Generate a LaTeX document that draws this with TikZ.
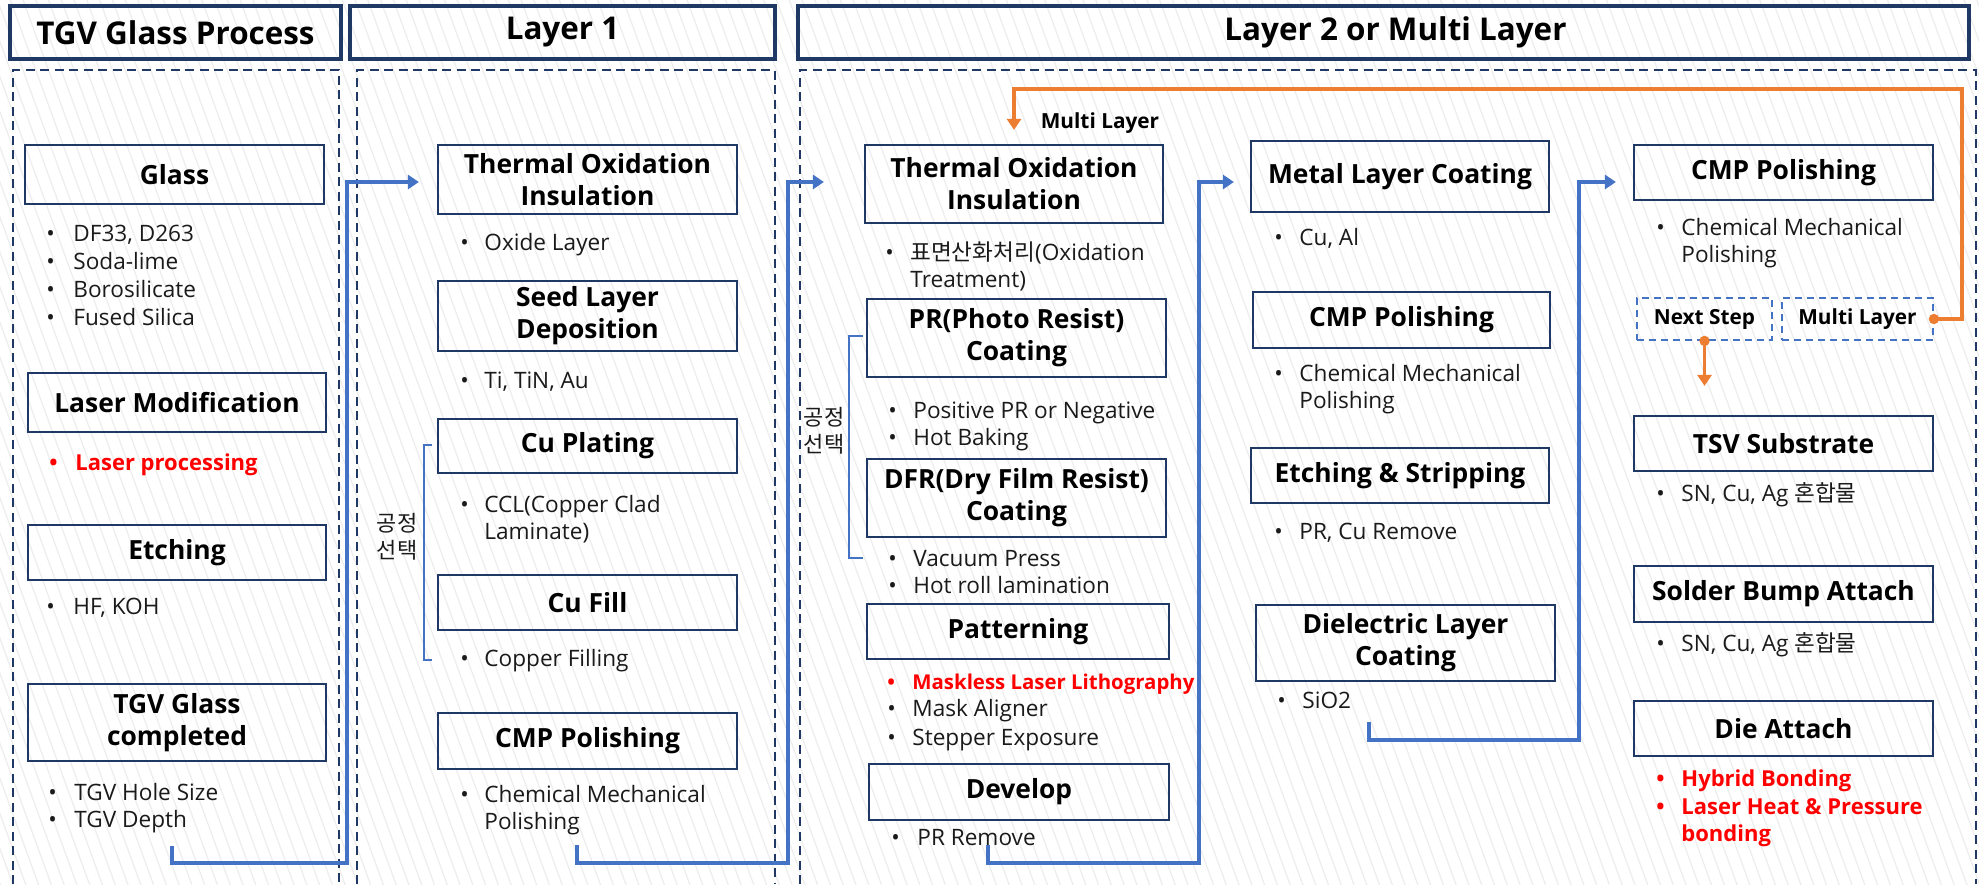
\documentclass[tikz,border=0pt]{standalone}
\usepackage{fontspec}
\setmainfont{Open Sans}
\newfontfamily\kr{Noto Sans CJK KR}
\usetikzlibrary{arrows.meta,patterns.meta,calc}
\definecolor{navy}{HTML}{203864}
\definecolor{lblue}{HTML}{4472C4}
\definecolor{org}{HTML}{ED7D31}
\definecolor{txt}{HTML}{1A1A1A}
\definecolor{redt}{HTML}{FF0000}
\newcommand\bx[6][]{\node[box,#1,minimum width={(#4-#2)*0.5pt},minimum height={(#5-#3)*0.5pt}] (#6) at ({(#2+#4)/2},{(#3+#5)/2})}
\newcommand\bi[6][]{\node[bul,#1] (#2b) at (#3,#5) {•};\node[itm,#1] (#2) at (#4,#5) {\begin{tabular}[t]{@{}l@{}}#6\end{tabular}};}
\begin{document}
\begin{tikzpicture}[x=0.5pt,y=-0.5pt,
  box/.style={draw=navy,line width=1.1pt,inner sep=0pt,align=center,text=black,font=\fontsize{13.2}{16}\selectfont\bfseries},
  hdr/.style={line width=1.8pt,font=\fontsize{15.7}{18}\selectfont\bfseries},
  dbox/.style={draw=lblue,dash pattern=on 3.5pt off 2.5pt,line width=0.9pt,font=\fontsize{10.4}{12}\selectfont\bfseries},
  bul/.style={anchor=base west,inner sep=0pt,text=txt,font=\fontsize{11.3}{13.8}\selectfont},
  itm/.style={anchor=base west,inner sep=0pt,text=txt,font=\fontsize{11.3}{13.8}\selectfont},
  hl/.style={text=redt,font=\fontsize{11}{13.8}\selectfont\bfseries},
  col/.style={draw=navy,line width=1pt,dash pattern=on 4.5pt off 2.75pt},
  conn/.style={draw=lblue,line width=1.8pt,-{Triangle[length=5.5pt,width=7pt]}},
  oconn/.style={draw=org,line width=1.6pt,-{Triangle[length=5.5pt,width=7pt]}},
  brk/.style={draw=lblue,line width=0.8pt},
  klab/.style={align=center,inner sep=0pt,text=txt,font=\kr\fontsize{11}{13.5}\selectfont},
  lab/.style={inner sep=0pt,text=black,font=\fontsize{10.4}{12}\selectfont\bfseries}]
\useasboundingbox (0,0) rectangle (1979,884);
\fill[white] (0,0) rectangle (1979,884);
\fill[pattern={Lines[angle=-70,distance=6pt,line width=0.6pt]},pattern color=black!7] (0,0) rectangle (1979,884);
% headers
\bx[hdr]{10}{6}{341}{59}{h1}{TGV Glass Process};
\bx[hdr]{350}{6}{775}{59}{h2}{Layer 1};
\bx[hdr]{798}{6}{1969}{59}{h3}{\hspace*{12pt}Layer 2 or Multi Layer};
% dashed columns
\draw[col] (13,884) -- (13,70) -- (339,70) -- (339,884);
\draw[col] (357,884) -- (357,70) -- (775,70) -- (775,884);
\draw[col] (800,884) -- (800,70) -- (1976,70) -- (1976,884);
% column 1
\bx{25}{145}{324}{204}{glass}{Glass};
\bx{28}{373}{326}{432}{lmod}{Laser Modification};
\bx{28}{525}{326}{580}{etch}{Etching};
\bx{28}{684}{326}{761}{tgvc}{TGV Glass\\completed};
\bi{g1}{46}{73}{241}{DF33, D263}
\bi{g2}{46}{73}{269}{Soda-lime}
\bi{g3}{46}{73}{297}{Borosilicate}
\bi{g4}{46}{73}{325}{Fused Silica}
\bi[hl]{lp}{49}{75}{470}{Laser processing}
\bi{hf}{46}{73}{614}{HF, KOH}
\bi{th1}{48}{74}{800}{TGV Hole Size}
\bi{th2}{48}{74}{827}{TGV Depth}
% column 2
\bx{438}{145}{737}{214}{tox1}{Thermal Oxidation\\Insulation};
\bx{438}{281}{737}{351}{seed}{Seed Layer\\Deposition};
\bx{438}{419}{737}{473}{cupl}{Cu Plating};
\bx{438}{575}{737}{630}{cufill}{Cu Fill};
\bx{438}{713}{737}{769}{cmp1}{CMP Polishing};
\bi{ox}{460}{484}{250}{Oxide Layer}
\bi{ti}{460}{484}{388}{Ti, TiN, Au}
\bi{ccl}{460}{484}{512}{CCL(Copper Clad\\Laminate)}
\bi{cf}{460}{484}{666}{Copper Filling}
\bi{cm1}{460}{484}{802}{Chemical Mechanical\\Polishing}
\draw[brk] (432,445) -- (424,445) -- (424,660) -- (432,660);
\node[klab] (sel1) at (397,537) {공정\\선택};
% column 3a
\bx{865}{145}{1163}{223}{tox2}{Thermal Oxidation\\Insulation};
\bx{867}{299}{1166}{377}{pr}{PR(Photo Resist)\\Coating};
\bx{867}{459}{1166}{537}{dfr}{DFR(Dry Film Resist)\\Coating};
\bx{867}{604}{1169}{659}{pat}{Patterning};
\bx{869}{764}{1169}{820}{dev}{Develop};
\node[lab] (mll) at (1100,123) {Multi Layer};
\bi{ot}{885}{910}{260}{{\kr 표면산화처리}(Oxidation\\Treatment)}
\bi{pp}{888}{913}{418}{Positive PR or Negative}
\bi{hb}{888}{913}{445}{Hot Baking}
\bi{vp}{888}{913}{566}{Vacuum Press}
\bi{hr}{888}{913}{593}{Hot roll lamination}
\bi[hl,font=\fontsize{10.2}{13.8}\selectfont\bfseries]{mlt}{887}{912}{689}{Maskless Laser Lithography}
\bi{ma}{887}{912}{716}{Mask Aligner}
\bi{se}{887}{912}{745}{Stepper Exposure}
\bi{prr}{891}{917}{845}{PR Remove}
\draw[brk] (863,336) -- (849,336) -- (849,558) -- (863,558);
\node[klab] (sel2) at (824,431) {공정\\선택};
% column 3b
\bx{1251}{141}{1549}{212}{metal}{Metal Layer Coating};
\bx{1253}{292}{1550}{348}{cmp2}{CMP Polishing};
\bx{1251}{448}{1549}{503}{etst}{Etching \& Stripping};
\bx{1256}{605}{1555}{681}{diel}{Dielectric Layer\\Coating};
\bi{cual}{1274}{1299}{245}{Cu, Al}
\bi{cm2}{1274}{1299}{381}{Chemical Mechanical\\Polishing}
\bi{pcr}{1274}{1299}{539}{PR, Cu Remove}
\bi{sio}{1277}{1302}{708}{SiO2}
% column 3c
\bx{1634}{145}{1933}{200}{cmp3}{CMP Polishing};
\bx[dbox]{1637}{298}{1772}{340}{ns}{Next Step};
\bx[dbox]{1782}{298}{1933}{340}{mlb}{Multi Layer};
\bx{1634}{416}{1933}{471}{tsv}{TSV Substrate};
\bx{1634}{566}{1933}{622}{sba}{Solder Bump Attach};
\bx{1634}{701}{1933}{756}{die}{Die Attach};
\bi{cm3}{1656}{1681}{235}{Chemical Mechanical\\Polishing}
\bi{sn1}{1656}{1681}{501}{SN, Cu, Ag {\kr 혼합물}}
\bi{sn2}{1656}{1681}{651}{SN, Cu, Ag {\kr 혼합물}}
\bi[hl]{hyb}{1656}{1681}{786}{Hybrid Bonding}
\bi[hl]{lhp}{1656}{1681}{814}{Laser Heat \& Pressure\\bonding}
% blue connectors
\coordinate (s1) at (172,846); \coordinate (j1) at (347,863);
\coordinate (s2) at (577,845); \coordinate (j2) at (788,863);
\coordinate (s3) at (988,845); \coordinate (j3) at (1199,863);
\coordinate (s4) at (1369,722); \coordinate (j4) at (1579,740);
\draw[conn,shorten >=9pt] (s1) |- (j1) |- ($(tox1.west)+(0,2.5)$);
\draw[conn,shorten >=20pt] (s2) |- (j2) |- ($(tox2.west)+(0,-2)$);
\draw[conn,shorten >=8pt] (s3) |- (j3) |- ($(metal.west)+(0,5.5)$);
\draw[conn,shorten >=8.5pt] (s4) |- (j4) |- ($(cmp3.west)+(0,9.5)$);
% orange connectors
\coordinate (o1) at (1962,89);
\draw[oconn,shorten >=7pt] (mlb.east) -| (o1) -| (tox2.north);
\fill[org] (mlb.east) circle (2.6pt);
\draw[oconn,shorten >=14.5pt] (ns.south) -- (ns.south |- tsv.north);
\fill[org] (ns.south) circle (2.6pt);
\end{tikzpicture}
\end{document}
